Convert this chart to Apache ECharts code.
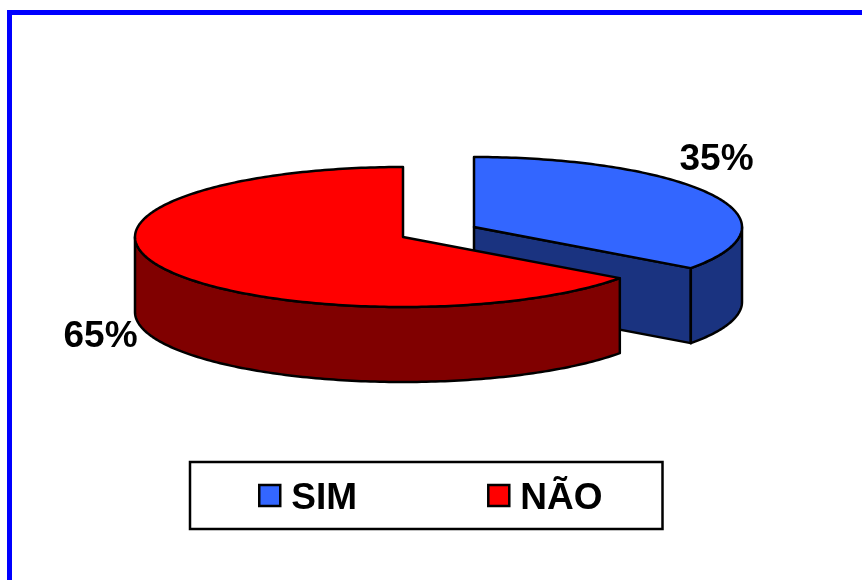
<!DOCTYPE html>
<html>
<head>
<meta charset="utf-8">
<style>html,body{margin:0;padding:0;background:#fff}#c{width:862px;height:580px}</style>
<script src="https://cdn.jsdelivr.net/npm/echarts@6/dist/echarts.min.js"></script>
</head>
<body>
<div id="c"></div>
<script>
const categories = ['SIM', 'NÃO'];
const values = [35, 65];
const topColors = ['#3366FF', '#FF0000'];
const sideColors = ['#1A3380', '#800000'];
const centers = [[474, 227], [403, 237]];
const labelAnchors = [[716.5, 160], [100.5, 337]];

const RX = 268, RY = 70, DEPTH = 75;
const FONT = 'bold 37px "Liberation Sans", Arial, sans-serif';
const total = values.reduce((a, b) => a + b, 0);

function sliceAngles(i) {
  let before = 0;
  for (let k = 0; k < i; k++) before += values[k];
  const a0 = -90 + before / total * 360;
  return [a0, a0 + values[i] / total * 360];
}
function arcPoints(c, a0, a1, dy) {
  const pts = [], n = Math.max(2, Math.ceil(Math.abs(a1 - a0)));
  for (let j = 0; j <= n; j++) {
    const t = (a0 + (a1 - a0) * j / n) * Math.PI / 180;
    pts.push([c[0] + RX * Math.cos(t), c[1] + dy + RY * Math.sin(t)]);
  }
  return pts;
}
const edge = { stroke: '#000', lineWidth: 2.5, lineJoin: 'round' };
function poly(points, fill) {
  return { type: 'polygon', shape: { points }, style: Object.assign({ fill }, edge) };
}
function makeRender(i) {
  return function () {
    const c = centers[i], [a0, a1] = sliceAngles(i);
    const children = [];
    const rimEnd = arcPoints(c, a1, a1, 0)[0];
    // inner cut wall of the detached slice, facing the viewer
    if (i === 0) {
      children.push(poly([c, rimEnd, [rimEnd[0], rimEnd[1] + DEPTH], [c[0], c[1] + DEPTH]], sideColors[i]));
    }
    // outer wall: only the front half of the ellipse (0..180 deg) is visible
    const v0 = Math.max(a0, 0), v1 = Math.min(a1, 180);
    if (v1 > v0) {
      const up = arcPoints(c, v0, v1, 0), down = arcPoints(c, v0, v1, DEPTH).reverse();
      children.push(poly(up.concat(down), sideColors[i]));
    }
    // top face
    children.push(poly([c].concat(arcPoints(c, a0, a1, 0)), topColors[i]));
    // percentage label
    children.push({
      type: 'text',
      style: {
        x: labelAnchors[i][0], y: labelAnchors[i][1],
        text: Math.round(values[i] / total * 100) + '%',
        font: FONT, fill: '#000', align: 'center', verticalAlign: 'middle'
      }
    });
    return { type: 'group', children };
  };
}

const legendFont = { fontFamily: '"Liberation Sans", Arial, sans-serif', fontWeight: 'bold', fontSize: 37, color: '#000' };
const chart = echarts.init(document.getElementById('c'), null, { renderer: 'canvas' });
chart.setOption({
  animation: false,
  backgroundColor: '#fff',
  graphic: [{
    type: 'rect', silent: true, z: -1,
    shape: { x: 9.5, y: 12.5, width: 900, height: 700 },
    style: { fill: '#fff', stroke: '#0000FF', lineWidth: 5 }
  }],
  legend: {
    left: 190, top: 462,
    orient: 'horizontal',
    padding: [18, 60, 12, 68],
    itemGap: 130, itemWidth: 21, itemHeight: 21,
    backgroundColor: '#fff',
    borderColor: '#000', borderWidth: 2.5,
    selectedMode: false,
    icon: 'rect',
    itemStyle: { borderColor: '#000', borderWidth: 2.5 },
    formatter: '{t|{name}}',
    textStyle: Object.assign({}, legendFont, {
      rich: { t: Object.assign({}, legendFont, { padding: [6, 0, 0, 6] }) }
    }),
    data: categories
  },
  series: categories.map((name, i) => ({
    type: 'custom',
    name,
    coordinateSystem: 'none',
    silent: true,
    itemStyle: { color: topColors[i] },
    renderItem: makeRender(i),
    data: [[values[i]]]
  }))
});
</script>
</body>
</html>
